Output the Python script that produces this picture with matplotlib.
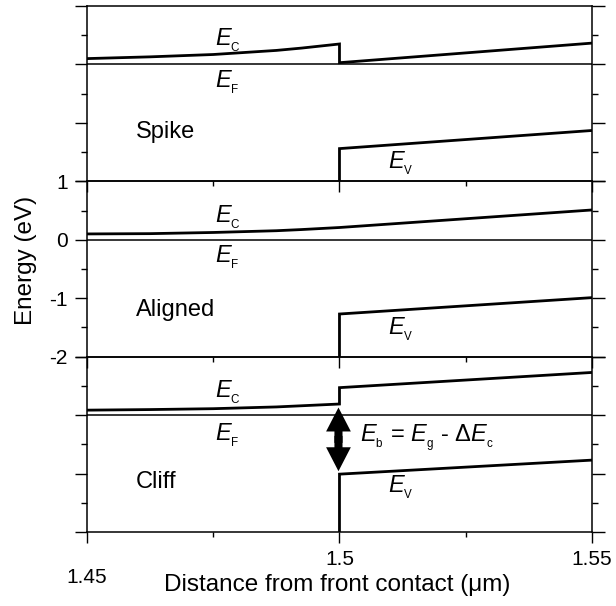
import matplotlib
matplotlib.use('Agg')
import matplotlib.pyplot as plt

plt.rcParams['font.family'] = ['Liberation Sans', 'DejaVu Sans']
plt.rcParams['axes.unicode_minus'] = False
plt.rcParams['mathtext.fontset'] = 'custom'
plt.rcParams['mathtext.it'] = 'Liberation Sans:italic'
plt.rcParams['mathtext.rm'] = 'Liberation Sans'

# band diagram data (eV, relative to E_F of each panel)
panels = ['Spike', 'Aligned', 'Cliff']
fermi_level = [3, 0, -3]          # where E_F sits on the shared energy axis

x_left = [1.45, 1.4625, 1.475, 1.4875, 1.4925, 1.5]
x_right = [1.5, 1.55]

spike_ec_left = [0.10, 0.13, 0.17, 0.24, 0.28, 0.35]
spike_ec_right = [0.03, 0.365]
aligned_ec_left = [0.10, 0.105, 0.125, 0.155, 0.175, 0.21]
aligned_ec_right = [0.21, 0.51]
cliff_ec_left = [0.085, 0.095, 0.11, 0.14, 0.16, 0.19]
cliff_ec_right = [0.47, 0.73]

spike_ev = [-1.44, -1.13]
aligned_ev = [-1.27, -0.99]
cliff_ev = [-1.01, -0.77]

# barrier arrow tips in the cliff panel
barrier_top = 0.13
barrier_bottom = -0.96

x_ticks = [1.45, 1.5, 1.55]
x_tick_labels = ['1.45', '1.5', '1.55']
x_minor = [1.475, 1.525]

ec_left = [spike_ec_left, aligned_ec_left, cliff_ec_left]
ec_right = [spike_ec_right, aligned_ec_right, cliff_ec_right]
ev = [spike_ev, aligned_ev, cliff_ev]

# label placement (baseline, relative to E_F)
ec_label_y = [0.33, 0.29, 0.30]
ef_label_y = [-0.39, -0.39, -0.43]
ev_label_y = [-1.78, -1.61, -1.33]
name_y = [-1.25, -1.31, -1.24]


def band(sub):
    # E with a small, low subscript
    return r'$E_{{}_{\mathrm{%s}}}$' % sub


fig, axes = plt.subplots(3, 1, sharex=True, figsize=(6.16, 6.06), dpi=100)
fig.subplots_adjust(left=0.1412, right=0.961, top=0.9901, bottom=0.1221, hspace=0)

for i, ax in enumerate(axes):
    ef = fermi_level[i]
    lo, hi = ef - 2, ef + 1
    ax.set_facecolor('none')
    ax.set_xlim(1.45, 1.55)
    ax.set_ylim(lo, hi)

    ax.axhline(ef, color='k', lw=1.1)
    ax.plot(x_left + x_right, [ef + v for v in ec_left[i] + ec_right[i]],
            color='k', lw=2, solid_joinstyle='miter')
    ax.plot([1.5, 1.5, 1.55], [lo, ef + ev[i][0], ef + ev[i][1]],
            color='k', lw=2, solid_joinstyle='miter')

    ax.text(1.4753, ef + ec_label_y[i], band('C'), fontsize=17, va='baseline')
    ax.text(1.4753, ef + ef_label_y[i], band('F'), fontsize=17, va='baseline')
    ax.text(1.5096, ef + ev_label_y[i], band('V'), fontsize=17, va='baseline')
    ax.text(1.4597, ef + name_y[i], panels[i], fontsize=17, va='baseline')

    ax.set_yticks(range(lo, hi + 1))
    ax.set_yticks([lo + 0.5, lo + 1.5, lo + 2.5], minor=True)
    ax.set_xticks(x_ticks)
    ax.set_xticks(x_minor, minor=True)
    ax.tick_params(axis='y', which='major', direction='out', length=9, width=1,
                   left=True, right=True, labelsize=15, pad=5,
                   labelleft=(i == 1))
    ax.tick_params(axis='y', which='minor', direction='out', length=4.5, width=1,
                   left=True, right=True)
    ax.tick_params(axis='x', which='major', direction='out', length=8, width=1,
                   top=False, labelsize=15, pad=5)
    ax.tick_params(axis='x', which='minor', direction='out', length=3.5, width=1,
                   top=False)
    for s in ax.spines.values():
        s.set_linewidth(1.1)

ax_bot = axes[2]
ax_bot.set_xticklabels(x_tick_labels)
ax_bot.xaxis.get_major_ticks()[0].set_pad(18)

# double-headed barrier arrow, drawn as two arrows from the middle outward
ef = fermi_level[2]
mid = ef + (barrier_top + barrier_bottom) / 2
for tip, start in ((barrier_top, mid - 0.06), (barrier_bottom, mid + 0.06)):
    ax_bot.arrow(1.4998, start, 0, ef + tip - start, width=0.0016, head_width=0.0049,
                 head_length=0.41, length_includes_head=True,
                 color='k', lw=0, zorder=3)
ax_bot.text(1.5041, ef - 0.47,
            r'$E_{{}_{\mathrm{b}}}$ = $E_{{}_{\mathrm{g}}}$ - $\Delta E_{{}_{\mathrm{c}}}$',
            fontsize=17, va='baseline')

ax_bot.set_xlabel('Distance from front contact (μm)', fontsize=17.5)
ax_bot.xaxis.set_label_coords(0.496, -0.24)
axes[1].set_ylabel('Energy (eV)', fontsize=17.5)
axes[1].yaxis.set_label_coords(-0.099, 0.547)

fig.savefig('out.png', dpi=100)
